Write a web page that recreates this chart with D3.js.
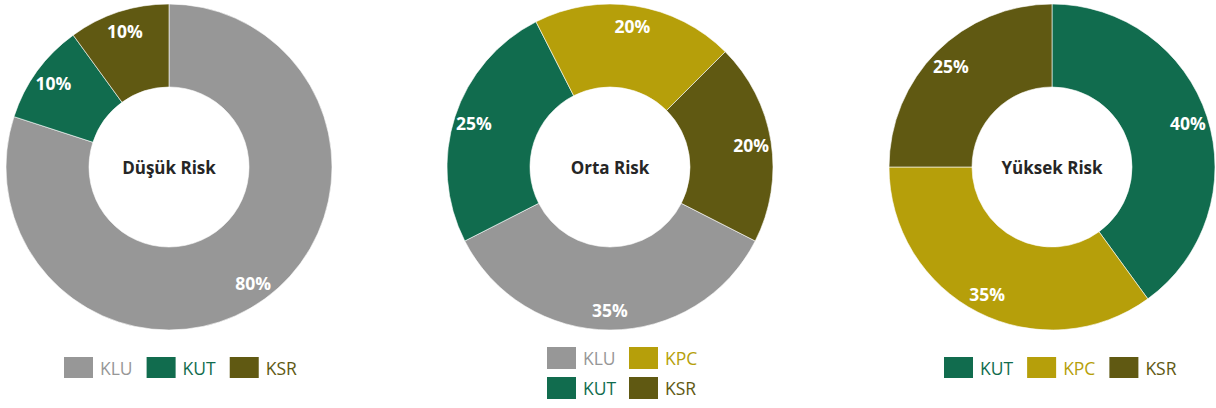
<!DOCTYPE html>
<html>
<head>
<meta charset="utf-8">
<script src="https://cdn.jsdelivr.net/npm/d3@7"></script>
<style>
  body { margin: 0; background: #fff; }
  svg { display: block; font-family: 'Open Sans', sans-serif; }
</style>
</head>
<body>
<svg id="chart"></svg>
<script>
// data
const riskTitles = ['Düşük Risk', 'Orta Risk', 'Yüksek Risk'];

const lowLabels = ['KLU', 'KUT', 'KSR'];
const lowValues = [80, 10, 10];

const midLabels = ['KLU', 'KUT', 'KPC', 'KSR'];
const midValues = [35, 25, 20, 20];

const highLabels = ['KUT', 'KPC', 'KSR'];
const highValues = [40, 35, 25];

// colours per category
const colors = {
    KLU: '#979797',
    KUT: '#116c4e',
    KPC: '#b69f0a',
    KSR: '#605912'
};

// dimensions
const width = 1216;
const height = 408;
const outerR = 163;
const innerR = 80;
const labelR = 143;

const svg = d3.select('#chart')
    .attr('width', width)
    .attr('height', height);

const charts = [
    { title: riskTitles[0], labels: lowLabels, values: lowValues, cx: 169, start: 0, legendX: -105, legendRows: 1 },
    { title: riskTitles[1], labels: midLabels, values: midValues, cx: 610, start: 117, legendX: -63, legendRows: 2 },
    { title: riskTitles[2], labels: highLabels, values: highValues, cx: 1052, start: 0, legendX: -108, legendRows: 1 }
];
const cy = 167;

const arc = d3.arc().innerRadius(innerR).outerRadius(outerR);
const labelArc = d3.arc().innerRadius(labelR).outerRadius(labelR);

charts.forEach(c => {
    const data = c.labels.map((l, i) => ({ label: l, value: c.values[i] }));
    const startRad = c.start * Math.PI / 180;
    const pie = d3.pie()
        .sort(null)
        .value(d => d.value)
        .startAngle(startRad)
        .endAngle(startRad + 2 * Math.PI);

    const g = svg.append('g')
        .attr('transform', `translate(${c.cx},${cy})`);

    const slices = pie(data);

    g.selectAll('path')
        .data(slices)
        .enter()
        .append('path')
        .attr('d', arc)
        .attr('fill', d => colors[d.data.label])
        .attr('stroke', '#fff')
        .attr('stroke-width', 0.6);

    g.selectAll('text.pct')
        .data(slices)
        .enter()
        .append('text')
        .attr('class', 'pct')
        .attr('transform', d => `translate(${labelArc.centroid(d)})`)
        .attr('text-anchor', 'middle')
        .attr('dominant-baseline', 'central')
        .style('font-size', '17.5px')
        .style('font-weight', 700)
        .style('fill', '#fff')
        .text(d => d.data.value + '%');

    // centre title
    g.append('text')
        .attr('text-anchor', 'middle')
        .attr('dominant-baseline', 'central')
        .style('font-size', '17px')
        .style('font-weight', 700)
        .style('fill', '#262626')
        .text(c.title);

    // legend
    const legend = svg.append('g');
    if (c.legendRows === 1) {
        let x = c.cx + c.legendX;
        c.labels.forEach(l => {
            legend.append('rect')
                .attr('x', x).attr('y', 357)
                .attr('width', 29).attr('height', 21)
                .attr('fill', colors[l]);
            const t = legend.append('text')
                .attr('x', x + 36).attr('y', 368)
                .attr('dominant-baseline', 'central')
                .style('font-size', '17.5px')
                .style('fill', colors[l])
                .text(l);
            x += 36 + t.node().getComputedTextLength() + 14;
        });
    } else {
        // two rows, filled column by column
        c.labels.forEach((l, i) => {
            const col = Math.floor(i / 2);
            const row = i % 2;
            const x = c.cx + c.legendX + col * 82;
            const y = 347 + row * 30;
            legend.append('rect')
                .attr('x', x).attr('y', y)
                .attr('width', 29).attr('height', 22)
                .attr('fill', colors[l]);
            legend.append('text')
                .attr('x', x + 36).attr('y', y + 11)
                .attr('dominant-baseline', 'central')
                .style('font-size', '17.5px')
                .style('fill', colors[l])
                .text(l);
        });
    }
});
</script>
</body>
</html>
